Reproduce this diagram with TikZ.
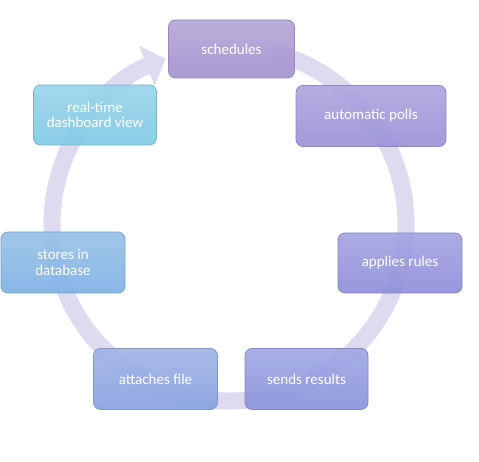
\documentclass[tikz,border=0pt]{standalone}
\usepackage{fontspec}
\setmainfont{Carlito}
\usetikzlibrary{arrows.meta}
\definecolor{ringc}{RGB}{222,219,240}
\definecolor{cA}{RGB}{163,146,206}
\definecolor{cB}{RGB}{155,146,216}
\definecolor{cC}{RGB}{143,143,219}
\definecolor{cD}{RGB}{138,147,220}
\definecolor{cE}{RGB}{136,162,223}
\definecolor{cF}{RGB}{128,178,228}
\definecolor{cG}{RGB}{128,202,230}
\tikzset{
  stepbox/.style={rounded corners=7pt, minimum width=124pt, minimum height=60pt,
    align=center, text=white, font=\fontsize{15}{15.5}\selectfont,
    fill opacity=0.92, text opacity=1, line width=0.8pt, inner sep=2pt},
  boxcol/.style={top color=#1!80!white, bottom color=#1, draw=#1!85!black!90!white}
}
\begin{document}
\begin{tikzpicture}[x=1pt,y=1pt]
\useasboundingbox (0,0) rectangle (479,461);
\fill[white] (0,0) rectangle (479,461);
\coordinate (c) at (229,237);
\draw[ringc, line width=17pt, -{Triangle[length=20pt,width=42pt]}]
  (c) ++(76:177) arc[start angle=76, end angle=-249, radius=177];
\node[stepbox, boxcol=cA, minimum width=126pt, minimum height=58pt] (s1) at (231.5,412) {schedules};
\node[stepbox, boxcol=cB, minimum width=150pt, minimum height=61pt] (s2) at (371,345) {automatic polls};
\node[stepbox, boxcol=cC] (s3) at (400,198) {applies rules};
\node[stepbox, boxcol=cD, minimum width=123pt, minimum height=61pt] (s4) at (306.5,82) {sends results};
\node[stepbox, boxcol=cE, minimum width=124pt, minimum height=61pt] (s5) at (155.5,82) {attaches file};
\node[stepbox, boxcol=cF, minimum height=61pt] (s6) at (63,198.5) {stores in\\database};
\node[stepbox, boxcol=cG, minimum width=123pt, minimum height=60pt] (s7) at (95,346) {real-time\\dashboard view};
\end{tikzpicture}
\end{document}
